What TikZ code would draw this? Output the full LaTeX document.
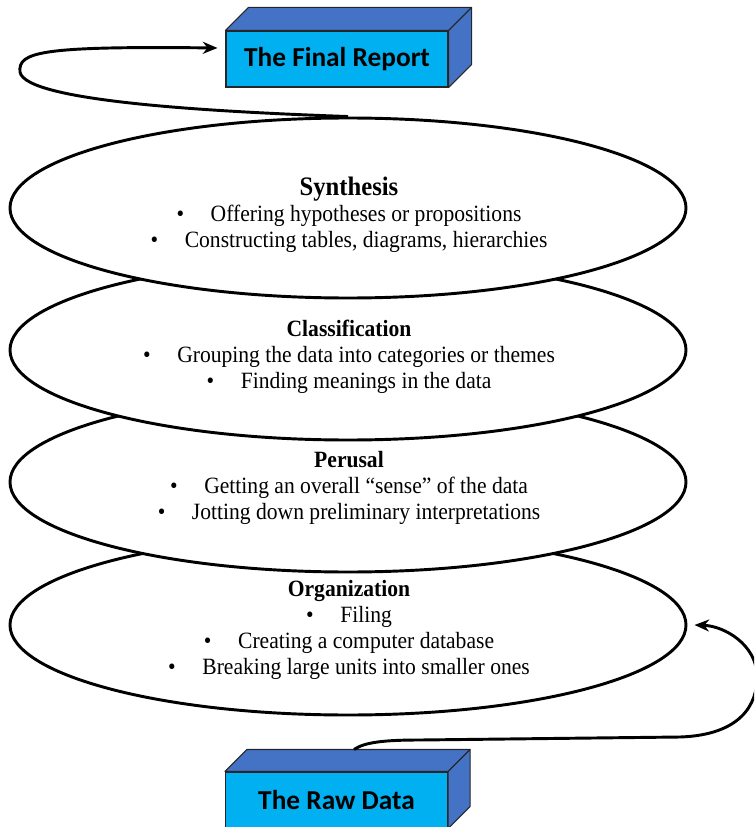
\documentclass[tikz,border=0pt]{standalone}
\usepackage{fontspec}
\setmainfont{Liberation Serif}
\newfontfamily\bodyfont[FakeStretch=0.925]{Liberation Serif}
\newfontfamily\boxfont{Carlito}
\usetikzlibrary{shapes.geometric,arrows.meta,calc}
\definecolor{faceblue}{HTML}{00B0F0}
\definecolor{sideblue}{HTML}{4472C4}
\newcommand{\stagebul}{\textbullet\hspace{20pt}}
\begin{document}
\begin{tikzpicture}[x=0.75pt,y=-0.75pt,
  stage/.style={ellipse, draw=black, fill=white, line width=2.2pt,
    minimum width=507pt, minimum height=135pt, inner sep=0pt},
  stagetext/.style={align=center, inner sep=0pt,
    font=\bodyfont\fontsize{17.5}{19.5}\selectfont},
  box/.style={rectangle, draw=black!85, line width=0.8pt, fill=faceblue,
    minimum width=166.5pt, minimum height=42pt, inner sep=0pt,
    font=\boxfont\bfseries\fontsize{20.5}{24}\selectfont},
  sidefill/.style={fill=sideblue, draw=black!85, line width=0.8pt, line join=round},
  flow/.style={line width=2.2pt, -{Stealth[length=11pt,width=9pt]}}]
\useasboundingbox (0,0) rectangle (754,827);
\clip (0,0) rectangle (754,827);

% ellipses, bottom to top
\node[stage] (org) at (348,625) {};
\node[stage] (per) at (348,482) {};
\node[stage] (cla) at (348,350) {};
\node[stage] (syn) at (348,208) {};

\node[stagetext] (syntxt) at (349,215) {{\fontsize{20}{21}\selectfont\bfseries Synthesis}\\
  \stagebul Offering hypotheses or propositions\\
  \stagebul Constructing tables, diagrams, hierarchies};
\node[stagetext] (clatxt) at (349,357) {{\bfseries Classification}\\
  \stagebul Grouping the data into categories or themes\\
  \stagebul Finding meanings in the data};
\node[stagetext] (pertxt) at (349,488) {{\bfseries Perusal}\\
  \stagebul Getting an overall \textquotedblleft sense\textquotedblright{} of the data\\
  \stagebul Jotting down preliminary interpretations};
\node[stagetext] (orgtxt) at (349,630) {{\bfseries Organization}\\
  \stagebul Filing\\
  \stagebul Creating a computer database\\
  \stagebul Breaking large units into smaller ones};

% boxes
\node[box] (final) at (337,59) {The Final Report};
\path[sidefill] (final.north west) -- ($(final.north west)+(23,-23)$) -- ($(final.north east)+(23,-23)$) -- (final.north east) -- cycle;
\path[sidefill] (final.north east) -- ($(final.north east)+(23,-23)$) -- ($(final.south east)+(23,-23)$) -- (final.south east) -- cycle;

\node[box] (raw) at (336.5,800) {The Raw Data};
\path[sidefill] (raw.north west) -- ($(raw.north west)+(22,-22)$) -- ($(raw.north east)+(22,-22)$) -- (raw.north east) -- cycle;
\path[sidefill] (raw.north east) -- ($(raw.north east)+(22,-22)$) -- ($(raw.south east)+(22,-22)$) -- (raw.south east) -- cycle;

% connectors
\draw[flow] (syn.north) .. controls (220,112) and (25,102) .. (20,72)
  .. controls (18,52) and (40,46) .. ($(final.west)+(-8,-11)$);

\coordinate (rawtop) at ($(raw.north)+(17.5,-22)$);
\draw[flow] (rawtop) .. controls (365,742) and (385,740) .. (420,740) -- (680,737)
  .. controls (740,735) and (758,705) .. (757,675)
  .. controls (756,645) and (725,626) .. ($(org.east)+(7,0)$);
\end{tikzpicture}
\end{document}
